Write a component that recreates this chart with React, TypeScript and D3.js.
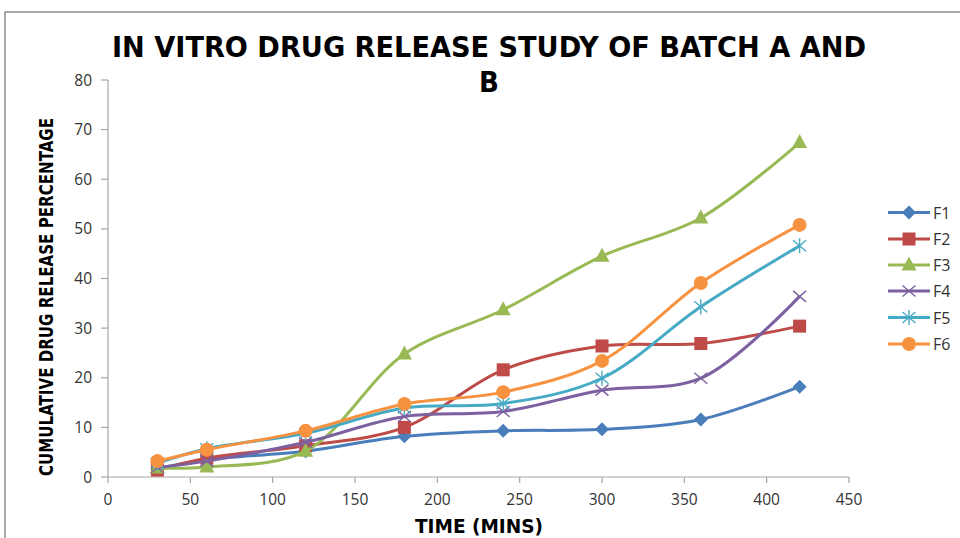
import React, { useEffect, useRef } from "react";
import * as d3 from "d3";

const times = [30, 60, 120, 180, 240, 300, 360, 420];
const seriesNames = ["F1", "F2", "F3", "F4", "F5", "F6"];
const f1 = [1.7, 3.5, 5.2, 8.2, 9.3, 9.6, 11.6, 18.2];
const f2 = [1.4, 3.8, 6.3, 10.0, 21.6, 26.4, 26.9, 30.4];
const f3 = [1.8, 2.0, 5.2, 24.8, 33.7, 44.5, 52.2, 67.4];
const f4 = [1.9, 3.2, 7.0, 12.2, 13.2, 17.5, 19.9, 36.4];
const f5 = [2.8, 5.7, 8.8, 13.9, 14.8, 19.9, 34.3, 46.6];
const f6 = [3.2, 5.5, 9.3, 14.7, 17.1, 23.4, 39.1, 50.8];
const seriesValues = [f1, f2, f3, f4, f5, f6];
const colors = ["#4a7ebb", "#be4b48", "#98b954", "#7d60a0", "#46aac5", "#f69240"];
const markers = ["diamond", "square", "triangle", "x", "asterisk", "circle"];
const xTicks = [0, 50, 100, 150, 200, 250, 300, 350, 400, 450];
const yTicks = [0, 10, 20, 30, 40, 50, 60, 70, 80];

function drawMarker(g: any, type: string, cx: number, cy: number, color: string) {
  if (type === "diamond") {
    g.append("path").attr("d", `M${cx},${cy - 7}L${cx + 7},${cy}L${cx},${cy + 7}L${cx - 7},${cy}Z`).attr("fill", color);
  } else if (type === "square") {
    g.append("rect").attr("x", cx - 6.5).attr("y", cy - 6.5).attr("width", 13).attr("height", 13).attr("fill", color);
  } else if (type === "triangle") {
    g.append("path").attr("d", `M${cx},${cy - 8.5}L${cx + 7.5},${cy + 5.5}L${cx - 7.5},${cy + 5.5}Z`).attr("fill", color);
  } else if (type === "circle") {
    g.append("circle").attr("cx", cx).attr("cy", cy).attr("r", 7).attr("fill", color);
  } else if (type === "x") {
    g.append("path").attr("d", `M${cx - 6.5},${cy - 5.5}L${cx + 6.5},${cy + 5.5}M${cx - 6.5},${cy + 5.5}L${cx + 6.5},${cy - 5.5}`).attr("stroke", color).attr("stroke-width", 1.4).attr("fill", "none");
  } else if (type === "asterisk") {
    g.append("path").attr("d", `M${cx - 6.5},${cy - 5.5}L${cx + 6.5},${cy + 5.5}M${cx - 6.5},${cy + 5.5}L${cx + 6.5},${cy - 5.5}M${cx},${cy - 7.5}L${cx},${cy + 7.5}`).attr("stroke", color).attr("stroke-width", 1.4).attr("fill", "none");
  }
}

export default function App() {
  const ref = useRef<SVGSVGElement>(null);
  useEffect(() => {
    const svg = d3.select(ref.current);
    svg.selectAll("*").remove();
    const x = d3.scaleLinear().domain([0, 450]).range([108, 849]);
    const y = d3.scaleLinear().domain([0, 80]).range([477, 80]);
    const font = "'Open Sans', 'DejaVu Sans', sans-serif";

    svg.append("rect").attr("x", 5).attr("y", 12).attr("width", 1000).attr("height", 600)
      .attr("fill", "white").attr("stroke", "#8c8c8c").attr("stroke-width", 1.5);

    // axes
    const axG = svg.append("g").attr("stroke", "#a6a6a6").attr("stroke-width", 1.2);
    axG.append("line").attr("x1", 108).attr("x2", 108).attr("y1", y(80)).attr("y2", y(0));
    axG.append("line").attr("x1", x(0)).attr("x2", x(450)).attr("y1", y(0)).attr("y2", y(0));
    yTicks.forEach((t) => {
      axG.append("line").attr("x1", 101).attr("x2", 108).attr("y1", y(t)).attr("y2", y(t));
    });
    xTicks.forEach((t) => {
      axG.append("line").attr("x1", x(t)).attr("x2", x(t)).attr("y1", 477).attr("y2", 483);
    });
    const tl = svg.append("g").attr("font-family", font).attr("font-size", 15.5).attr("fill", "#333");
    yTicks.forEach((t) => {
      tl.append("text").attr("x", 92).attr("y", y(t) + 5.5).attr("text-anchor", "end").text(t);
    });
    xTicks.forEach((t) => {
      tl.append("text").attr("x", x(t)).attr("y", 505).attr("text-anchor", "middle").text(t);
    });

    // titles
    const bf = "'DejaVu Sans Condensed', 'DejaVu Sans', sans-serif";
    svg.append("text").attr("x", 489).attr("y", 57).attr("text-anchor", "middle")
      .attr("font-family", bf).attr("font-weight", "bold").attr("font-size", 29)
      .attr("textLength", 754).attr("lengthAdjust", "spacingAndGlyphs")
      .attr("fill", "#000").text("IN VITRO DRUG RELEASE STUDY OF BATCH A AND");
    svg.append("text").attr("x", 489).attr("y", 92).attr("text-anchor", "middle")
      .attr("font-family", bf).attr("font-weight", "bold").attr("font-size", 29)
      .attr("fill", "#000").text("B");
    svg.append("text").attr("transform", "translate(53,297) rotate(-90)").attr("text-anchor", "middle")
      .attr("font-family", bf).attr("font-weight", "bold").attr("font-size", 20)
      .attr("textLength", 358).attr("lengthAdjust", "spacingAndGlyphs")
      .attr("fill", "#000").text("CUMULATIVE DRUG RELEASE PERCENTAGE");
    svg.append("text").attr("x", 479).attr("y", 533).attr("text-anchor", "middle")
      .attr("font-family", bf).attr("font-weight", "bold").attr("font-size", 20)
      .attr("textLength", 128).attr("lengthAdjust", "spacingAndGlyphs")
      .attr("fill", "#000").text("TIME (MINS)");

    // series
    const line = d3.line<number>().x((_, i) => x(times[i])).y((d) => y(d)).curve(d3.curveCatmullRom.alpha(0.5));
    seriesValues.forEach((vals, si) => {
      const g = svg.append("g");
      g.append("path").attr("d", line(vals)).attr("fill", "none").attr("stroke", colors[si]).attr("stroke-width", 3);
      vals.forEach((v, i) => drawMarker(g, markers[si], x(times[i]), y(v), colors[si]));
    });

    // legend
    const legendY = [212.5, 239, 265, 291, 317.5, 344];
    seriesNames.forEach((n, i) => {
      const g = svg.append("g");
      g.append("line").attr("x1", 888).attr("x2", 930).attr("y1", legendY[i]).attr("y2", legendY[i])
        .attr("stroke", colors[i]).attr("stroke-width", 3);
      drawMarker(g, markers[i], 909, legendY[i], colors[i]);
      g.append("text").attr("x", 933).attr("y", legendY[i] + 6).attr("font-family", font)
        .attr("font-size", 16).attr("fill", "#333").text(n);
    });
  }, []);
  return <svg ref={ref} width={960} height={538} style={{ position: "absolute", left: 0, top: 0 }} />;
}
